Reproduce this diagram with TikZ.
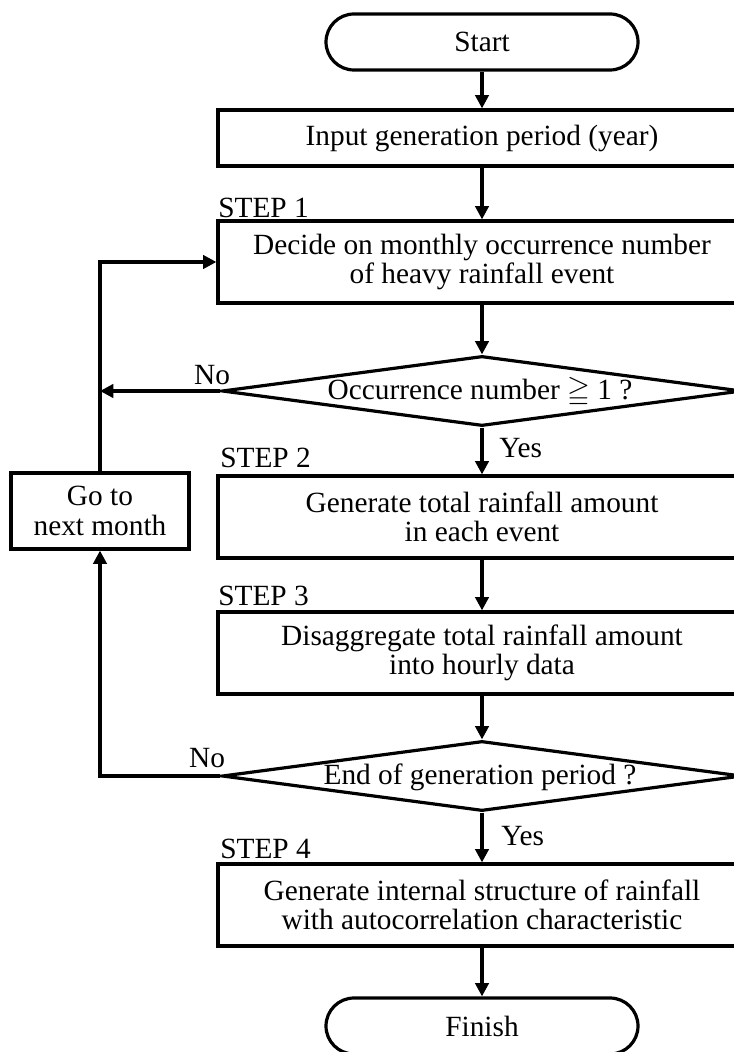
\documentclass[tikz,border=0pt]{standalone}
\usepackage{fontspec}
\setmainfont{Liberation Serif}
\usepackage{amssymb}
\usetikzlibrary{arrows.meta,shapes.geometric}
\begin{document}
\begin{tikzpicture}[x=0.75pt,y=-0.75pt,
  every node/.style={font=\fontsize{22}{22}\selectfont},
  ln/.style={line width=2.4pt},
  arr/.style={ln, -{Triangle[length=10pt,width=10pt]}},
  stepbox/.style={draw, ln, rectangle, inner sep=0pt, minimum width=396pt, minimum height=61.5pt, align=center},
  term/.style={draw, ln, rounded corners=21pt, minimum width=234pt, minimum height=42pt, inner sep=0pt},
  dec/.style={draw, ln, diamond, minimum width=390pt, minimum height=52.5pt, inner sep=0pt, aspect=7.4},
  steplab/.style={anchor=base west, inner sep=0pt},
  lab/.style={inner sep=0pt}]
\useasboundingbox (0,0) rectangle (734,1052);
\clip (0,0) rectangle (734,1052);

\node[term] (start) at (482,42) {Start};
\node[stepbox, minimum height=42pt] (input) at (482,138) {Input generation period (year)};
\node[stepbox] (s1) at (482,262) {Decide on monthly occurrence number\\of heavy rainfall event};
\node[dec] (d1) at (482,391) {};
\node[lab] (d1t) at (480,392) {Occurrence number $\geqq$ 1 ?};
\node[stepbox] (s2) at (482,517) {Generate total rainfall amount\\in each event};
\node[stepbox] (s3) at (482,653) {Disaggregate total rainfall amount\\into hourly data};
\node[dec] (d2) at (482,776) {};
\node[lab] (d2t) at (480,777) {End of generation period ?};
\node[stepbox] (s4) at (482,905) {Generate internal structure of rainfall\\with autocorrelation characteristic};
\node[term] (finish) at (482,1026) {Finish};
\node[draw, ln, rectangle, inner sep=0pt, minimum width=133.5pt, minimum height=57pt, align=center] (go) at (100,511) {Go to\\next month};

\node[steplab] (l1) at (218,217) {STEP 1};
\node[steplab] (l2) at (220,467) {STEP 2};
\node[steplab] (l3) at (218,605) {STEP 3};
\node[steplab] (l4) at (220,858) {STEP 4};

\node[lab, anchor=base] (no1) at (212,384) {No};
\node[lab, anchor=base] (no2) at (207,767) {No};
\node[lab, anchor=base west] (yes1) at (499,457) {Yes};
\node[lab, anchor=base west] (yes2) at (501,845) {Yes};

\draw[arr] (start) -- (input);
\draw[arr] (input) -- (s1);
\draw[arr] (s1) -- (d1.north);
\draw[arr] (d1.south) -- (s2);
\draw[arr] (s2) -- (s3);
\draw[arr] (s3) -- (d2.north);
\draw[arr] (d2.south) -- (s4);
\draw[arr] (s4) -- (finish);
\coordinate (j1) at (d1.west -| go.north);
\draw[arr] (d1.west) -- (j1);
\draw[arr] (go.north) |- (s1.west);
\draw[arr] (d2.west) -| (go.south);
\end{tikzpicture}
\end{document}
